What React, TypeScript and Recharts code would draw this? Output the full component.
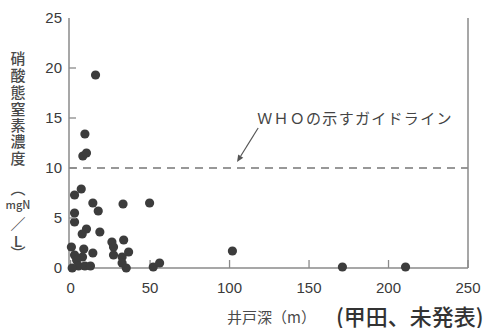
import { ScatterChart, Scatter, XAxis, YAxis, ReferenceLine, Label } from 'recharts'

// well depth (m) vs nitrate-N concentration (mgN/L)
const depth = [15.7, 9, 7.7, 10, 6.7, 2.5, 14, 17.4, 33, 49.7, 2.5, 2.5, 10, 7.3, 18.4, 0.5, 26, 33.4, 27, 8.3, 14, 2.5, 7.5, 27, 32.4, 36.5, 3.8, 5, 9, 12.5, 1, 32.4, 35, 52, 56, 101.8, 171, 210.7]
const nitrate = [19.3, 13.4, 11.2, 11.5, 7.9, 7.3, 6.5, 5.7, 6.4, 6.5, 5.5, 4.6, 3.9, 3.4, 3.6, 2.1, 2.6, 2.8, 2.1, 1.9, 1.5, 1.3, 1.1, 1.3, 1.1, 1.6, 0.8, 0.2, 0.2, 0.2, 0, 0.5, 0, 0.1, 0.5, 1.7, 0.1, 0.1]
const xTicks = [0, 50, 100, 150, 200, 250]
const yTicks = [0, 5, 10, 15, 20, 25]
const guideline = 10
// arrow from the annotation text down to the guideline
const arrowFrom = { x: 118, y: 14 }
const arrowTo = { x: 104.7, y: 10.6 }

const yLabelParts = ['硝', '酸', '態', '窒', '素', '濃', '度', '︵', 'mgN', '／', 'L', '︶']

const points = depth.map((x, i) => ({ x, y: nitrate[i] }))

const AXIS = '#8a8a8a'
const TEXT = '#3a3a3a'
const DOT = '#3c3c3c'
const SANS = '"Liberation Sans", Arial, sans-serif'
const CJK = '"Noto Sans CJK JP", "Noto Sans", sans-serif'

function YTick({ x, y, payload }: any) {
  const v = payload.value
  return (
    <g>
      {v > 0 && v < 25 && (
        <line x1={x + 7} x2={x + 14} y1={y} y2={y} stroke={AXIS} strokeWidth={1.3} />
      )}
      <text x={x} y={y} dy="0.36em" textAnchor="end" fontSize={15} fill={TEXT} fontFamily={SANS}>
        {v}
      </text>
    </g>
  )
}

function YTitle() {
  // stacked vertical title, one glyph per row
  const rows = [57, 74, 91, 108, 124, 140, 157, 187, 204, 223, 240, 252]
  return (
    <g fill="#4a4a4a" fontFamily={CJK} fontWeight={500} textAnchor="middle">
      {yLabelParts.map((c, i) => (
        <text key={i} x={18} y={rows[i]} dominantBaseline="central"
          fontSize={c === 'mgN' ? 11 : 15}>
          {c}
        </text>
      ))}
    </g>
  )
}

function XTitle() {
  return (
    <g fontFamily={CJK} dominantBaseline="central">
      <text x={227} y={316} fontSize={15} fill="#4a4a4a">井戸深（m）</text>
      <text x={336} y={315} fontSize={22} fontWeight={500} fill="#333">(甲田、未発表)</text>
    </g>
  )
}

function Arrow({ x1, y1, x2, y2 }: any) {
  const ang = Math.atan2(y2 - y1, x2 - x1)
  const len = 7
  const w = 3
  const bx = x2 - len * Math.cos(ang)
  const by = y2 - len * Math.sin(ang)
  const px = -Math.sin(ang) * w
  const py = Math.cos(ang) * w
  return (
    <g>
      <line x1={x1} y1={y1} x2={bx} y2={by} stroke="#555" strokeWidth={1.2} />
      <polygon points={`${x2},${y2} ${bx + px},${by + py} ${bx - px},${by - py}`} fill="#555" />
      <text x={x1 - 1} y={y1 - 4} fontSize={15} letterSpacing={1.3} fill="#444" fontFamily={CJK}>
        ＷＨＯの示すガイドライン
      </text>
    </g>
  )
}

export default function App() {
  return (
    <div style={{ position: 'absolute', left: 0, top: 0, background: '#fff' }}>
      <ScatterChart width={493} height={328} margin={{ top: 18, right: 25, bottom: 35, left: 29 }}>
        <XAxis
          type="number"
          dataKey="x"
          domain={[-1, 250]}
          ticks={xTicks}
          height={25}
          axisLine={{ stroke: AXIS, strokeWidth: 1.5 }}
          tickLine={{ stroke: AXIS, strokeWidth: 1.3 }}
          tickSize={-8}
          tickMargin={22}
          tick={{ fill: TEXT, fontSize: 15, fontFamily: SANS }}
        >
          <Label content={<XTitle />} />
        </XAxis>
        <YAxis
          type="number"
          dataKey="y"
          domain={[0, 25]}
          ticks={yTicks}
          width={40}
          axisLine={{ stroke: AXIS, strokeWidth: 1.5 }}
          tickLine={false}
          tickSize={0}
          tickMargin={7}
          tick={<YTick />}
        >
          <Label content={<YTitle />} />
        </YAxis>
        <ReferenceLine y={guideline} stroke="#777" strokeWidth={1.3} strokeDasharray="8 6" />
        <ReferenceLine x={250} stroke={AXIS} strokeWidth={1.5} />
        <ReferenceLine
          segment={[arrowFrom, arrowTo]}
          shape={<Arrow />}
        />
        <Scatter
          data={points}
          isAnimationActive={false}
          shape={(p: any) => <circle cx={p.cx} cy={p.cy} r={4.6} fill={DOT} />}
        />
      </ScatterChart>
    </div>
  )
}
